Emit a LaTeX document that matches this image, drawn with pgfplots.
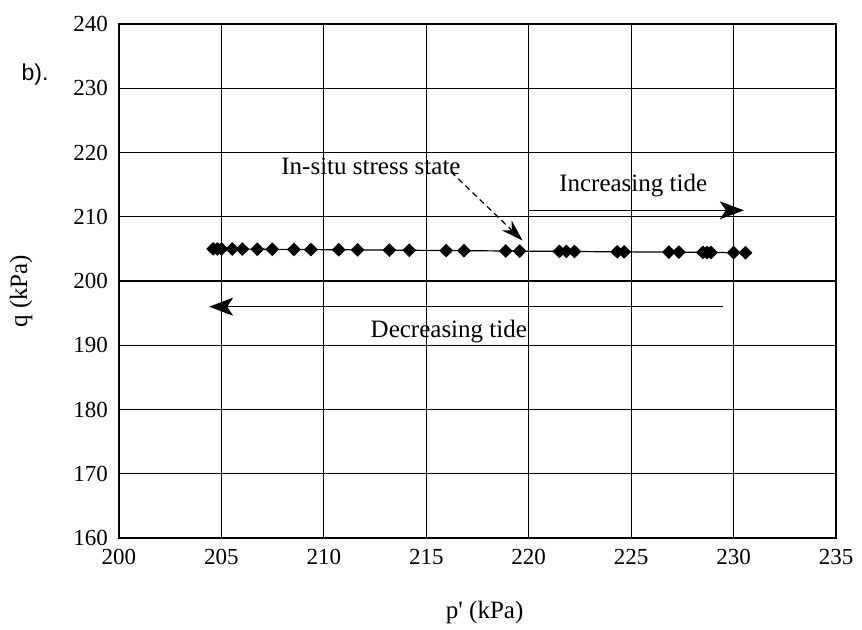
\documentclass[border=0pt]{standalone}
\usepackage{fontspec}
\setmainfont{Liberation Serif}
\setsansfont{Liberation Sans}
\usepackage{pgfplots}
\pgfplotsset{compat=1.18}
\usetikzlibrary{arrows.meta}

\begin{document}
\begin{tikzpicture}
\begin{axis}[
    name=ax,
    scale only axis,
    width=358.5pt, height=257pt,
    xmin=200, xmax=235, ymin=160, ymax=240,
    xtick={200,205,...,235}, ytick={160,170,...,240},
    grid=major, grid style={black, line width=0.6pt},
    axis line style={black, line width=0.9pt},
    tick style={draw=none},
    ticklabel style={font=\fontsize{11.5}{13}\selectfont},
    xticklabel style={yshift=-2pt},
    yticklabel style={xshift=-2pt},
    /pgf/number format/assume math mode=true,
    /pgf/number format/1000 sep={},
    xlabel={p\textquotesingle\ (kPa)}, ylabel={q (kPa)},
    label style={font=\fontsize{12.5}{14}\selectfont},
    xlabel style={at={(axis description cs:0.51,0)}, anchor=center, yshift=-37pt},
    ylabel style={at={(axis description cs:0,0.48)}, anchor=center, yshift=49pt},
    clip=false,
]
\addplot[black, line width=0.6pt, mark=diamond*, mark size=3pt,
    mark options={fill=black, xscale=1.35}]
coordinates {
(204.6,205.00) (204.8,204.99) (205.0,204.99) (205.53,204.98) (206.02,204.97)
(206.75,204.95) (207.48,204.93) (208.54,204.91) (209.37,204.89) (210.73,204.86)
(211.65,204.84) (213.2,204.80) (214.17,204.78) (215.97,204.74) (216.84,204.72)
(218.88,204.67) (219.56,204.65) (221.5,204.61) (221.84,204.60) (222.23,204.59)
(224.32,204.54) (224.66,204.54) (226.84,204.49) (227.33,204.48) (228.5,204.45)
(228.7,204.44) (228.9,204.44) (230.0,204.41) (230.58,204.40)
};

\node[font=\fontsize{12.5}{14}\selectfont] at (axis cs:212.3,217.8) {In-situ stress state};
\draw[densely dashed, line width=0.6pt, -{Stealth[length=11pt,width=7pt]}]
    (axis cs:216.2,217.0) -- (axis cs:219.7,206.3);

\node[font=\fontsize{12.5}{14}\selectfont] at (axis cs:225.1,214.8) {Increasing tide};
\draw[line width=0.6pt, -{Stealth[length=12pt,width=9pt,inset=3pt]}]
    (axis cs:220,211.0) -- (axis cs:230.5,211.0);

\node[font=\fontsize{12.5}{14}\selectfont] at (axis cs:216.1,192.1) {Decreasing tide};
\draw[line width=0.6pt, -{Stealth[length=12pt,width=9pt,inset=3pt]}]
    (axis cs:229.5,196.0) -- (axis cs:204.4,196.0);

\node[font=\sffamily\fontsize{11.5}{13}\selectfont] at (axis cs:195.9,232.1) {b).};
\end{axis}
\pgfresetboundingbox
\path[use as bounding box] ([xshift=-59.5pt,yshift=-46pt]ax.south west)
    rectangle ([xshift=13pt,yshift=12pt]ax.north east);
\end{tikzpicture}
\end{document}
